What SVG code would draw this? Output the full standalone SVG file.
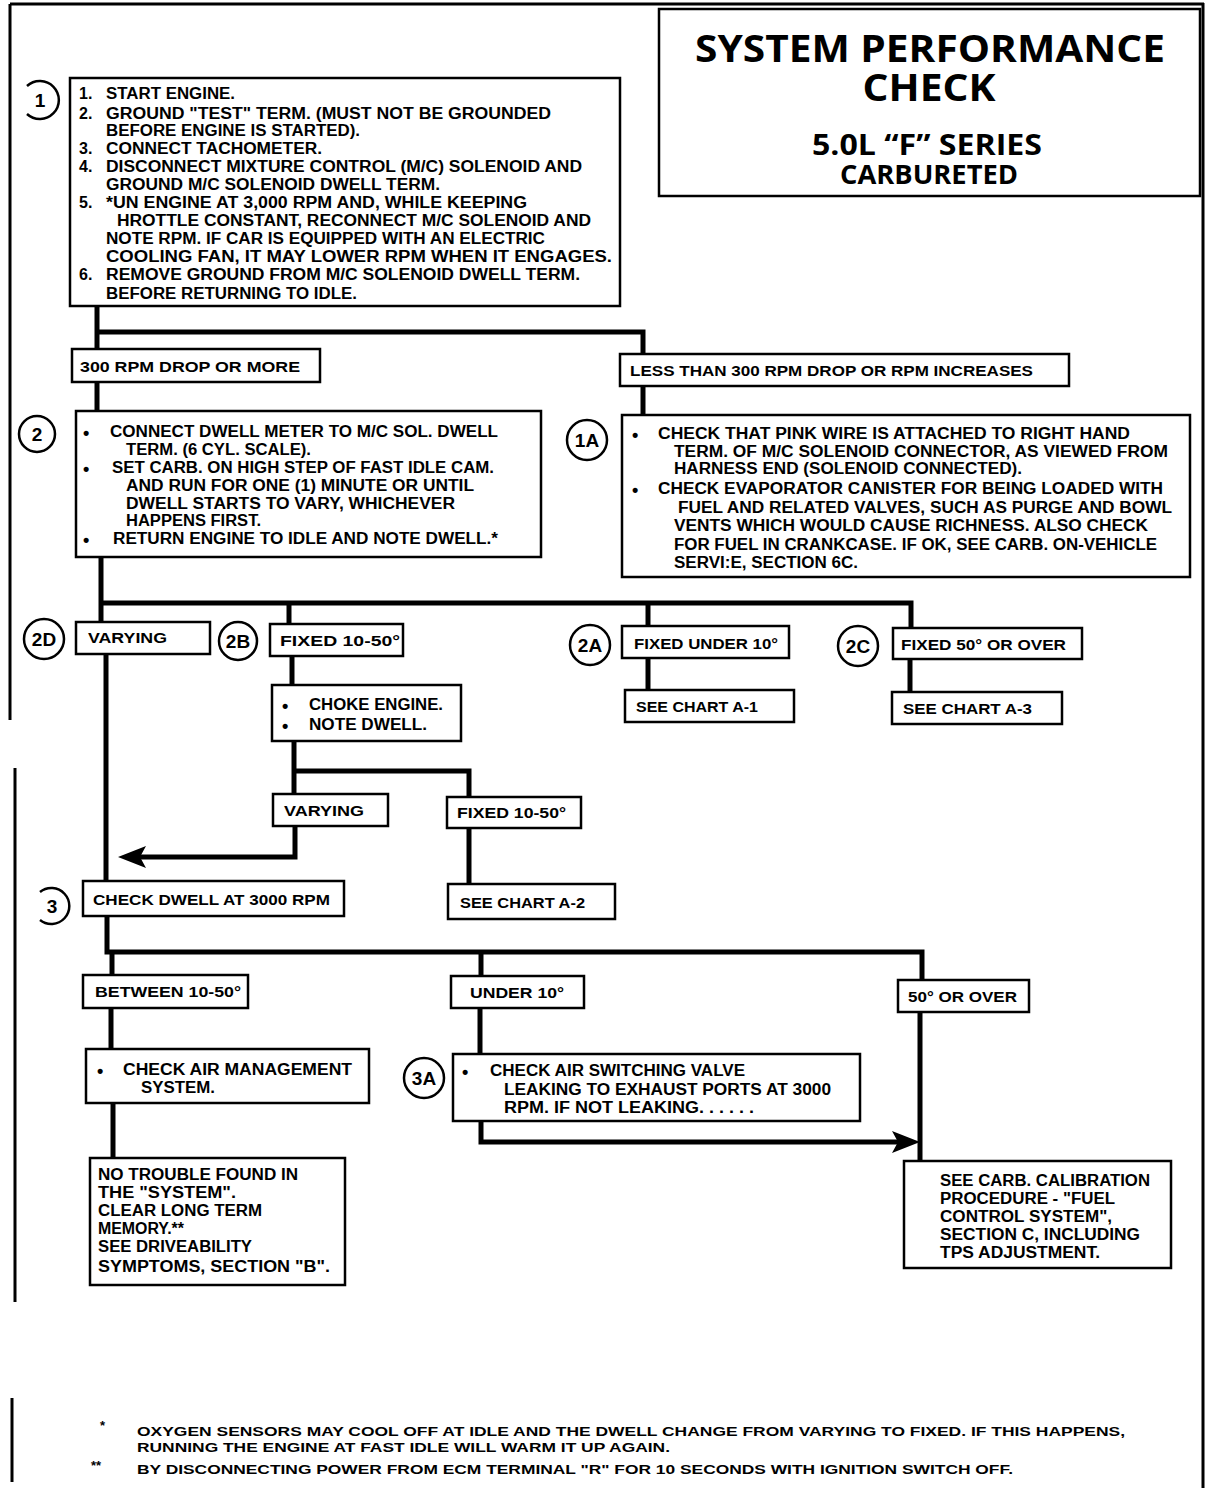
<svg xmlns="http://www.w3.org/2000/svg" width="1216" height="1488" viewBox="0 0 1216 1488">
<style>
.box{fill:#fff;stroke:#000;stroke-width:2.5}
.t{font-family:"Liberation Sans",Arial,sans-serif;font-weight:bold;font-size:16px;fill:#000}
.l{font-family:"Liberation Sans",Arial,sans-serif;font-weight:bold;font-size:15px;fill:#000}
.f{font-family:"Liberation Sans",Arial,sans-serif;font-weight:bold;font-size:13px;fill:#000}
.b{font-family:"Liberation Sans",Arial,sans-serif;font-weight:bold;font-size:18px;fill:#000}
.ttl{font-family:"Open Sans","Liberation Sans",sans-serif;font-weight:bold;fill:#000;text-anchor:middle}
.circ{fill:#fff;stroke:#000;stroke-width:2.5}
.ct{font-family:"Liberation Sans",Arial,sans-serif;font-weight:bold;font-size:19px;fill:#000;text-anchor:middle}
.conn{stroke:#000;stroke-width:5;fill:none}
.frame{stroke:#000;stroke-width:3;fill:none}
</style>
<rect width="1216" height="1488" fill="#fff"/>
<g id="frame">
<line class="frame" x1="10" y1="4" x2="1204" y2="4"/>
<line class="frame" x1="1203" y1="3" x2="1203" y2="1488"/>
<line class="frame" x1="10" y1="4" x2="10" y2="720" stroke-width="1.5"/>
<line class="frame" x1="15" y1="768" x2="15" y2="1302"/>
<line class="frame" x1="12" y1="1398" x2="12" y2="1482"/>
</g>
<g id="connectors">
<polyline class="conn" points="97,306 97,350"/>
<polyline class="conn" points="97,332 643,332 643,355"/>
<polyline class="conn" points="97,382 97,412"/>
<polyline class="conn" points="643,386 643,416"/>
<polyline class="conn" points="101,557 101,603"/>
<polyline class="conn" points="101,603 911,603 911,629"/>
<polyline class="conn" points="101,603 101,623"/>
<polyline class="conn" points="289,603 289,625"/>
<polyline class="conn" points="648,603 648,627"/>
<polyline class="conn" points="106,654 106,881"/>
<polyline class="conn" points="648,658 648,691"/>
<polyline class="conn" points="910,659 910,693"/>
<polyline class="conn" points="292,656 292,686"/>
<polyline class="conn" points="294,741 294,795"/>
<polyline class="conn" points="294,771 469,771 469,798"/>
<polyline class="conn" points="295,826 295,857 140,857"/>
<polygon points="118,857 146,846 140,857 146,868" fill="#000"/>
<polyline class="conn" points="469,828 469,885"/>
<polyline class="conn" points="107,916 107,952 922,952 922,981"/>
<polyline class="conn" points="112,952 112,976"/>
<polyline class="conn" points="481,952 481,977"/>
<polyline class="conn" points="111,1008 111,1050"/>
<polyline class="conn" points="113,1103 113,1159"/>
<polyline class="conn" points="480,1008 480,1055"/>
<polyline class="conn" points="481,1121 481,1142 898,1142"/>
<polygon points="920,1142 892,1131 898,1142 892,1153" fill="#000"/>
<polyline class="conn" points="920,1012 920,1162"/>
</g>
<g id="title">
<rect class="box" x="659" y="9" width="541" height="187"/>
<text class="ttl" font-size="38"><tspan x="930" y="62" textLength="470" lengthAdjust="spacingAndGlyphs">SYSTEM PERFORMANCE</tspan><tspan x="929" y="101" textLength="133" lengthAdjust="spacingAndGlyphs">CHECK</tspan></text>
<text class="ttl" font-size="29"><tspan x="927" y="155" textLength="230" lengthAdjust="spacingAndGlyphs">5.0L “F” SERIES</tspan><tspan x="929" y="184" font-size="27" textLength="178" lengthAdjust="spacingAndGlyphs">CARBURETED</tspan></text>
</g>
<g id="n1">
<path class="circ" d="M27,86 A19,19 0 1 1 27,114" fill="none"/>
<text class="ct" x="40" y="107">1</text>
<rect class="box" x="70" y="78" width="550" height="228"/>
<text class="t" x="79" y="99">1.</text><text class="t" x="106" y="99" textLength="129" lengthAdjust="spacingAndGlyphs">START ENGINE.</text>
<text class="t" x="79" y="119">2.</text><text class="t" x="106" y="119" textLength="445" lengthAdjust="spacingAndGlyphs">GROUND "TEST" TERM.  (MUST NOT BE GROUNDED</text>
<text class="t" x="106" y="136" textLength="254" lengthAdjust="spacingAndGlyphs">BEFORE ENGINE IS STARTED).</text>
<text class="t" x="79" y="154">3.</text><text class="t" x="106" y="154" textLength="216" lengthAdjust="spacingAndGlyphs">CONNECT TACHOMETER.</text>
<text class="t" x="79" y="172">4.</text><text class="t" x="106" y="172" textLength="476" lengthAdjust="spacingAndGlyphs">DISCONNECT MIXTURE CONTROL (M/C) SOLENOID AND</text>
<text class="t" x="106" y="190" textLength="334" lengthAdjust="spacingAndGlyphs">GROUND M/C SOLENOID DWELL TERM.</text>
<text class="t" x="79" y="208">5.</text><text class="t" x="106" y="208" textLength="421" lengthAdjust="spacingAndGlyphs">*UN ENGINE AT 3,000 RPM AND, WHILE KEEPING</text>
<text class="t" x="117" y="226" textLength="474" lengthAdjust="spacingAndGlyphs">HROTTLE CONSTANT, RECONNECT M/C SOLENOID AND</text>
<text class="t" x="106" y="244" textLength="439" lengthAdjust="spacingAndGlyphs">NOTE RPM.  IF CAR IS EQUIPPED WITH AN ELECTRIC</text>
<text class="t" x="106" y="262" textLength="506" lengthAdjust="spacingAndGlyphs">COOLING FAN, IT MAY LOWER RPM WHEN IT ENGAGES.</text>
<text class="t" x="79" y="280">6.</text><text class="t" x="106" y="280" textLength="474" lengthAdjust="spacingAndGlyphs">REMOVE GROUND FROM M/C SOLENOID DWELL TERM.</text>
<text class="t" x="106" y="299" textLength="251" lengthAdjust="spacingAndGlyphs">BEFORE RETURNING TO IDLE.</text>
</g>
<g id="drop300">
<rect class="box" x="72" y="349" width="248" height="33"/>
<text class="l" x="80" y="372" textLength="220" lengthAdjust="spacingAndGlyphs">300 RPM DROP OR MORE</text>
</g>
<g id="less300">
<rect class="box" x="620" y="354" width="449" height="32"/>
<text class="l" x="630" y="376" textLength="403" lengthAdjust="spacingAndGlyphs">LESS THAN 300 RPM DROP OR RPM INCREASES</text>
</g>
<g id="n2">
<circle class="circ" cx="37" cy="434" r="18"/>
<text class="ct" x="37" y="441">2</text>
<rect class="box" x="76" y="411" width="465" height="146"/>
<text class="b" x="83" y="439">•</text><text class="t" x="110" y="437" textLength="388" lengthAdjust="spacingAndGlyphs">CONNECT DWELL METER TO M/C SOL. DWELL</text>
<text class="t" x="126" y="455" textLength="185" lengthAdjust="spacingAndGlyphs">TERM. (6 CYL. SCALE).</text>
<text class="b" x="83" y="475">•</text><text class="t" x="112" y="473" textLength="382" lengthAdjust="spacingAndGlyphs">SET CARB. ON HIGH STEP OF FAST IDLE CAM.</text>
<text class="t" x="126" y="491" textLength="348" lengthAdjust="spacingAndGlyphs">AND RUN FOR ONE (1) MINUTE OR UNTIL</text>
<text class="t" x="126" y="509" textLength="329" lengthAdjust="spacingAndGlyphs">DWELL STARTS TO VARY, WHICHEVER</text>
<text class="t" x="126" y="526" textLength="135" lengthAdjust="spacingAndGlyphs">HAPPENS FIRST.</text>
<text class="b" x="83" y="546">•</text><text class="t" x="113" y="544" textLength="385" lengthAdjust="spacingAndGlyphs">RETURN ENGINE TO IDLE AND NOTE DWELL.*</text>
</g>
<g id="n1A">
<circle class="circ" cx="587" cy="440" r="20"/>
<text class="ct" x="587" y="447">1A</text>
<rect class="box" x="622" y="415" width="568" height="162"/>
<text class="b" x="632" y="441">•</text><text class="t" x="658" y="439" textLength="472" lengthAdjust="spacingAndGlyphs">CHECK THAT PINK WIRE IS ATTACHED TO RIGHT HAND</text>
<text class="t" x="674" y="457" textLength="494" lengthAdjust="spacingAndGlyphs">TERM. OF M/C SOLENOID CONNECTOR, AS VIEWED FROM</text>
<text class="t" x="674" y="474" textLength="348" lengthAdjust="spacingAndGlyphs">HARNESS END (SOLENOID CONNECTED).</text>
<text class="b" x="632" y="496">•</text><text class="t" x="658" y="494" textLength="505" lengthAdjust="spacingAndGlyphs">CHECK EVAPORATOR CANISTER FOR BEING LOADED WITH</text>
<text class="t" x="678" y="513" textLength="494" lengthAdjust="spacingAndGlyphs">FUEL AND RELATED VALVES, SUCH AS PURGE AND BOWL</text>
<text class="t" x="674" y="531" textLength="474" lengthAdjust="spacingAndGlyphs">VENTS WHICH WOULD CAUSE RICHNESS.  ALSO CHECK</text>
<text class="t" x="674" y="550" textLength="483" lengthAdjust="spacingAndGlyphs">FOR FUEL IN CRANKCASE.  IF OK, SEE CARB. ON-VEHICLE</text>
<text class="t" x="674" y="568" textLength="184" lengthAdjust="spacingAndGlyphs">SERVI:E, SECTION 6C.</text>
</g>
<g id="n2D">
<circle class="circ" cx="44" cy="639" r="20"/>
<text class="ct" x="44" y="646">2D</text>
<rect class="box" x="76" y="622" width="134" height="32"/>
<text class="l" x="88" y="643" textLength="79" lengthAdjust="spacingAndGlyphs">VARYING</text>
</g>
<g id="n2B">
<circle class="circ" cx="238" cy="641" r="19"/>
<text class="ct" x="238" y="648">2B</text>
<rect class="box" x="270" y="624" width="133" height="32"/>
<text class="l" x="280" y="646" textLength="120" lengthAdjust="spacingAndGlyphs">FIXED 10-50°</text>
</g>
<g id="n2A">
<circle class="circ" cx="590" cy="645" r="20"/>
<text class="ct" x="590" y="652">2A</text>
<rect class="box" x="622" y="626" width="167" height="32"/>
<text class="l" x="634" y="649" textLength="144" lengthAdjust="spacingAndGlyphs">FIXED UNDER 10°</text>
</g>
<g id="n2C">
<circle class="circ" cx="858" cy="646" r="20"/>
<text class="ct" x="858" y="653">2C</text>
<rect class="box" x="893" y="628" width="189" height="31"/>
<text class="l" x="901" y="650" textLength="165" lengthAdjust="spacingAndGlyphs">FIXED 50° OR OVER</text>
</g>
<g id="chartA1">
<rect class="box" x="625" y="690" width="169" height="32"/>
<text class="l" x="636" y="712" textLength="122" lengthAdjust="spacingAndGlyphs">SEE CHART A-1</text>
</g>
<g id="chartA3">
<rect class="box" x="892" y="692" width="170" height="32"/>
<text class="l" x="903" y="714" textLength="129" lengthAdjust="spacingAndGlyphs">SEE CHART A-3</text>
</g>
<g id="choke">
<rect class="box" x="272" y="685" width="189" height="56"/>
<text class="b" x="282" y="712">•</text><text class="t" x="309" y="710" textLength="134" lengthAdjust="spacingAndGlyphs">CHOKE ENGINE.</text>
<text class="b" x="282" y="732">•</text><text class="t" x="309" y="730" textLength="118" lengthAdjust="spacingAndGlyphs">NOTE DWELL.</text>
</g>
<g id="varying2">
<rect class="box" x="273" y="794" width="115" height="32"/>
<text class="l" x="284" y="816" textLength="80" lengthAdjust="spacingAndGlyphs">VARYING</text>
</g>
<g id="fixed2">
<rect class="box" x="447" y="797" width="134" height="31"/>
<text class="l" x="457" y="818" textLength="109" lengthAdjust="spacingAndGlyphs">FIXED 10-50°</text>
</g>
<g id="chartA2">
<rect class="box" x="448" y="884" width="167" height="35"/>
<text class="l" x="460" y="908" textLength="125" lengthAdjust="spacingAndGlyphs">SEE CHART A-2</text>
</g>
<g id="n3">
<path class="circ" d="M40,892 A18,18 0 1 1 40,920" fill="none"/>
<text class="ct" x="52" y="913">3</text>
<rect class="box" x="83" y="881" width="261" height="35"/>
<text class="l" x="93" y="905" textLength="237" lengthAdjust="spacingAndGlyphs">CHECK DWELL AT 3000 RPM</text>
</g>
<g id="between">
<rect class="box" x="83" y="975" width="165" height="33"/>
<text class="l" x="95" y="997" textLength="146" lengthAdjust="spacingAndGlyphs">BETWEEN 10-50°</text>
</g>
<g id="under10">
<rect class="box" x="451" y="976" width="133" height="32"/>
<text class="l" x="470" y="998" textLength="94" lengthAdjust="spacingAndGlyphs">UNDER 10°</text>
</g>
<g id="over50">
<rect class="box" x="898" y="980" width="131" height="32"/>
<text class="l" x="908" y="1002" textLength="109" lengthAdjust="spacingAndGlyphs">50° OR OVER</text>
</g>
<g id="airmgmt">
<rect class="box" x="86" y="1049" width="283" height="54"/>
<text class="b" x="97" y="1077">•</text><text class="t" x="123" y="1075" textLength="229" lengthAdjust="spacingAndGlyphs">CHECK AIR MANAGEMENT</text>
<text class="t" x="141" y="1093" textLength="74" lengthAdjust="spacingAndGlyphs">SYSTEM.</text>
</g>
<g id="notrouble">
<rect class="box" x="90" y="1158" width="255" height="127"/>
<text class="t" x="98" y="1180" textLength="200" lengthAdjust="spacingAndGlyphs">NO TROUBLE FOUND IN</text>
<text class="t" x="98" y="1198" textLength="138" lengthAdjust="spacingAndGlyphs">THE "SYSTEM".</text>
<text class="t" x="98" y="1216" textLength="164" lengthAdjust="spacingAndGlyphs">CLEAR LONG TERM</text>
<text class="t" x="98" y="1234" textLength="86" lengthAdjust="spacingAndGlyphs">MEMORY.**</text>
<text class="t" x="98" y="1252" textLength="154" lengthAdjust="spacingAndGlyphs">SEE DRIVEABILITY</text>
<text class="t" x="98" y="1272" textLength="232" lengthAdjust="spacingAndGlyphs">SYMPTOMS, SECTION "B".</text>
</g>
<g id="n3A">
<circle class="circ" cx="424" cy="1078" r="20"/>
<text class="ct" x="424" y="1085">3A</text>
<rect class="box" x="453" y="1054" width="407" height="67"/>
<text class="b" x="462" y="1078">•</text><text class="t" x="490" y="1076" textLength="255" lengthAdjust="spacingAndGlyphs">CHECK AIR SWITCHING VALVE</text>
<text class="t" x="504" y="1095" textLength="327" lengthAdjust="spacingAndGlyphs">LEAKING TO EXHAUST PORTS AT 3000</text>
<text class="t" x="504" y="1113" textLength="250" lengthAdjust="spacingAndGlyphs">RPM.    IF NOT LEAKING. . . . . .</text>
</g>
<g id="seecarb">
<rect class="box" x="904" y="1161" width="267" height="107"/>
<text class="t" x="940" y="1186" textLength="210" lengthAdjust="spacingAndGlyphs">SEE CARB. CALIBRATION</text>
<text class="t" x="940" y="1204" textLength="175" lengthAdjust="spacingAndGlyphs">PROCEDURE - "FUEL</text>
<text class="t" x="940" y="1222" textLength="172" lengthAdjust="spacingAndGlyphs">CONTROL SYSTEM",</text>
<text class="t" x="940" y="1240" textLength="200" lengthAdjust="spacingAndGlyphs">SECTION C, INCLUDING</text>
<text class="t" x="940" y="1258" textLength="160" lengthAdjust="spacingAndGlyphs">TPS ADJUSTMENT.</text>
</g>
<g id="footnotes">
<text class="f" x="100" y="1430">*</text>
<text class="f" x="137" y="1436" textLength="988" lengthAdjust="spacingAndGlyphs">OXYGEN SENSORS MAY COOL OFF AT IDLE AND THE DWELL CHANGE FROM VARYING TO FIXED.  IF THIS HAPPENS,</text>
<text class="f" x="137" y="1452" textLength="533" lengthAdjust="spacingAndGlyphs">RUNNING THE ENGINE AT FAST IDLE WILL WARM IT UP AGAIN.</text>
<text class="f" x="91" y="1470">**</text>
<text class="f" x="137" y="1474" textLength="876" lengthAdjust="spacingAndGlyphs">BY DISCONNECTING POWER FROM ECM TERMINAL "R" FOR 10 SECONDS WITH IGNITION SWITCH OFF.</text>
</g>
</svg>
